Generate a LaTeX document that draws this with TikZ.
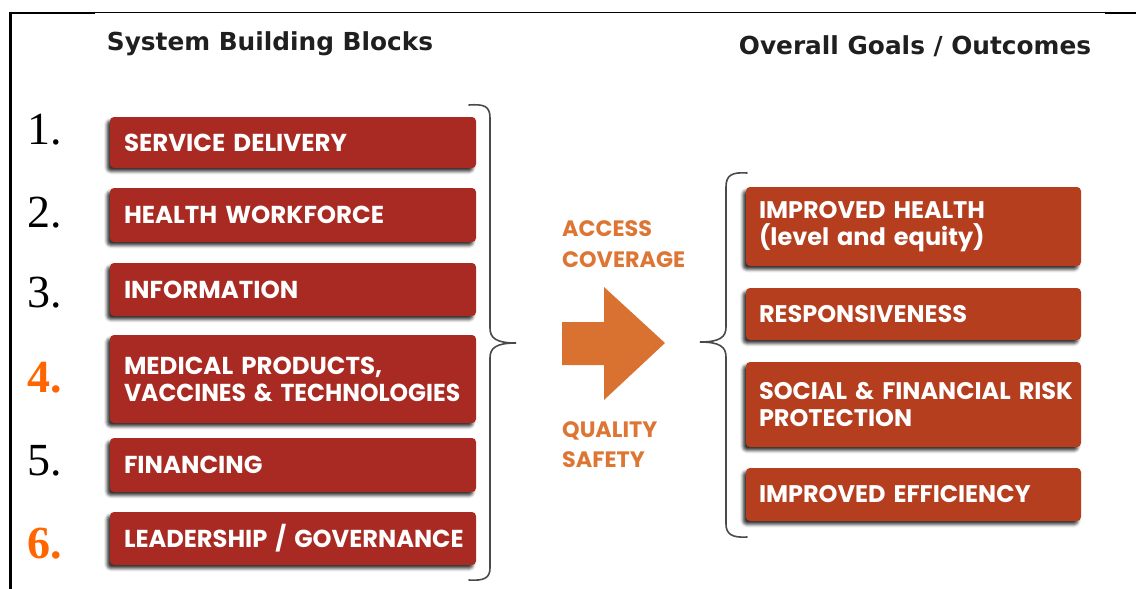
\documentclass[tikz,border=0pt]{standalone}
\usepackage{fontspec}
\usepackage{graphicx}
\usetikzlibrary{shadows.blur}
\newfontfamily\gothamf{Poppins}
\newfontfamily\titlef{DejaVu Sans}
\newfontfamily\timesf{Liberation Serif}
\definecolor{lred}{HTML}{A82A22}
\definecolor{rred}{HTML}{B43E1E}
\definecolor{orng}{HTML}{DD7634}
\definecolor{arrc}{HTML}{D97230}
\definecolor{numorange}{HTML}{FF6600}
\definecolor{bracec}{HTML}{4A4A4A}
\tikzset{
  boxshadow/.style={blur shadow={shadow xshift=-3pt, shadow yshift=-3.5pt, shadow blur radius=3pt, shadow opacity=80}},
  lbox/.style={fill=lred, rounded corners=4pt, minimum width=366pt, text width=338pt, inner xsep=14pt, inner ysep=0pt, align=left, text=white, font=\gothamf\bfseries\fontsize{24.5}{27}\selectfont, boxshadow},
  rbox/.style={fill=rred, rounded corners=4pt, minimum width=335pt, text width=309pt, inner xsep=13pt, inner ysep=0pt, align=left, text=white, font=\gothamf\bfseries\fontsize{24}{27}\selectfont, boxshadow},
  numtxt/.style={anchor=base west, inner sep=0pt, font=\timesf\fontsize{46}{46}\selectfont},
  numor/.style={numtxt, text=numorange, font=\timesf\bfseries\fontsize{46}{46}\selectfont},
  otxt/.style={anchor=base west, inner sep=0pt, text=orng, font=\gothamf\bfseries\fontsize{22.3}{23}\selectfont},
  ttl/.style={inner sep=0pt, font=\titlef\bfseries\fontsize{24.8}{26}\selectfont, text=black!88},
  bracel/.style={draw=bracec, line width=1.6pt, line cap=round},
}
\begin{document}
\begin{tikzpicture}[x=1pt,y=-1pt]
\useasboundingbox (0,0) rectangle (1136,589);
% frame
\draw[line width=1.2pt] (10,12.8) -- (1136,12.8);
\draw[line width=2.6pt] (9.5,13) -- (95,13);
\draw[line width=2.6pt] (1105,13) -- (1136,13);
\draw[line width=2.7pt] (10.7,11.7) -- (10.7,589);
% titles
\node[ttl] (t1) at (270,44) {System Building Blocks};
\node[ttl] (t2) at (915,46) {Overall Goals / Outcomes};
% numbers
\node[numtxt] (n1) at (27,144) {1.};
\node[numtxt] (n2) at (27,227) {2.};
\node[numtxt] (n3) at (27,307) {3.};
\node[numor]  (n4) at (27,392) {4.};
\node[numtxt] (n5) at (27,475) {5.};
\node[numor]  (n6) at (27,558) {6.};
% left boxes
\node[lbox, minimum height=51pt] (b1) at (293,142.5) {SERVICE DELIVERY};
\node[lbox, minimum height=54pt] (b2) at (293,215) {HEALTH WORKFORCE};
\node[lbox, minimum height=53pt] (b3) at (293,289.5) {INFORMATION};
\node[lbox, minimum height=88pt] (b4) at (293,379) {\mbox{MEDICAL PRODUCTS,}\\\scalebox{0.96}[1]{VACCINES \& TECHNOLOGIES}};
\node[lbox, minimum height=54pt] (b5) at (293,465) {FINANCING};
\node[lbox, minimum height=53pt] (b6) at (293,538.5) {\scalebox{0.985}[1]{LEADERSHIP / GOVERNANCE}};
% right boxes
\node[rbox, minimum height=79pt] (r1) at (913.5,226.5) {IMPROVED HEALTH\\(level and equity)};
\node[rbox, minimum height=52pt] (r2) at (913.5,314) {RESPONSIVENESS};
\node[rbox, minimum height=85pt] (r3) at (913.5,404.5) {\mbox{SOCIAL \& FINANCIAL RISK}\\PROTECTION};
\node[rbox, minimum height=53pt] (r4) at (913.5,494.5) {IMPROVED EFFICIENCY};
% left brace
\coordinate (lbt) at (469,105);
\coordinate (lbtip) at (516,343);
\coordinate (lbb) at (469,580);
\draw[bracel] (lbt) .. controls (484,104) and (490,106) .. (490,118) -- (490,328)
  .. controls (490,338) and (496,343) .. (lbtip)
  .. controls (496,343) and (490,348) .. (490,358) -- (490,568)
  .. controls (490,578) and (484,581) .. (lbb);
% right brace
\coordinate (rbt) at (747,173);
\coordinate (rbtip) at (700,342);
\coordinate (rbb) at (747,537);
\draw[bracel] (rbt) .. controls (732,172) and (726,175) .. (726,187) -- (726,327)
  .. controls (726,337) and (720,342) .. (rbtip)
  .. controls (720,342) and (726,347) .. (726,357) -- (726,524)
  .. controls (726,534) and (732,538) .. (rbb);
% middle labels
\node[otxt] (a1) at (562,236) {ACCESS};
\node[otxt] (a2) at (562,267) {COVERAGE};
\node[otxt] (q1) at (562,437) {QUALITY};
\node[otxt] (q2) at (562,467) {SAFETY};
% arrow
\fill[arrc] (562,322) -- (604,322) -- (604,287) -- (665,343) -- (604,400) -- (604,365) -- (562,365) -- cycle;
\end{tikzpicture}
\end{document}
